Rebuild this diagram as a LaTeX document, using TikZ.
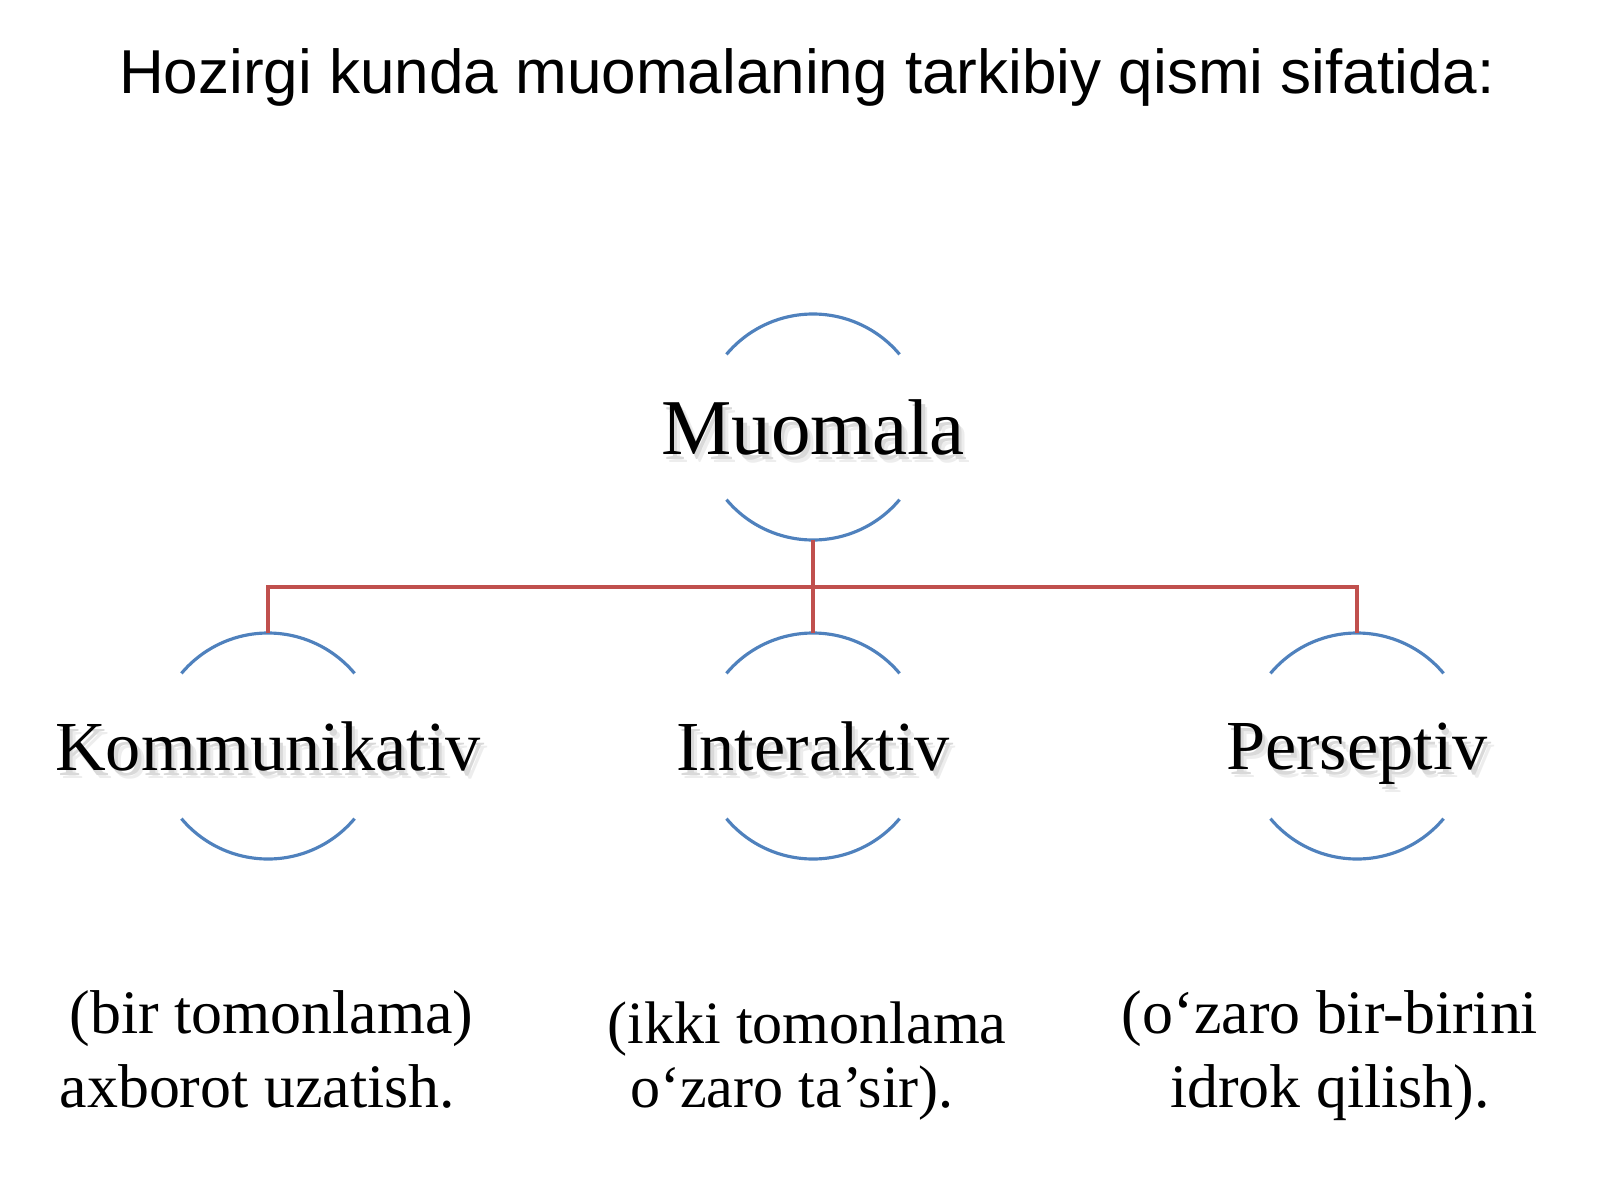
\documentclass[tikz,border=0pt]{standalone}
\usepackage{fontspec}
\setmainfont{Liberation Serif}
\newfontfamily\titlefont{Liberation Sans}
\definecolor{arcblue}{HTML}{4F81BD}
\definecolor{busred}{HTML}{C0504D}
\newcommand{\shadowed}[1]{\makebox[0pt][l]{\hspace{1.8pt}\raisebox{-2.4pt}{\textcolor{black!7}{#1}}}\makebox[0pt][l]{\hspace{1.0pt}\raisebox{-1.4pt}{\textcolor{black!15}{#1}}}#1}

\begin{document}
\begin{tikzpicture}[
    ring/.style={circle, minimum size=2.26cm, inner sep=0pt, outer sep=0pt},
    arcline/.style={draw=arcblue, line width=0.9pt},
    busline/.style={draw=busred, line width=0.9pt},
    lbl/.style={inner sep=0pt, text depth=0pt, font=\fontsize{20}{24}\selectfont},
    note/.style={inner sep=0pt, font=\fontsize{17.6}{21}\selectfont}]

    \useasboundingbox (0,0) rectangle (16,12);

    % title
    \node[anchor=base, inner sep=0pt, font=\titlefont\fontsize{17.65}{20}\selectfont] (title) at (8.07,11.06)
        {Hozirgi kunda muomalaning tarkibiy qismi sifatida:};

    % rings
    \node[ring] (mc) at (8.13,7.73) {};
    \node[ring] (kc) at (2.68,4.54) {};
    \node[ring] (ic) at (8.13,4.54) {};
    \node[ring] (pc) at (13.57,4.54) {};

    \draw[arcline] (mc.40) arc[start angle=40, end angle=140, radius=1.13];
    \draw[arcline] (mc.220) arc[start angle=220, end angle=320, radius=1.13];
    \draw[arcline] (kc.40) arc[start angle=40, end angle=140, radius=1.13];
    \draw[arcline] (kc.220) arc[start angle=220, end angle=320, radius=1.13];
    \draw[arcline] (ic.40) arc[start angle=40, end angle=140, radius=1.13];
    \draw[arcline] (ic.220) arc[start angle=220, end angle=320, radius=1.13];
    \draw[arcline] (pc.40) arc[start angle=40, end angle=140, radius=1.13];
    \draw[arcline] (pc.220) arc[start angle=220, end angle=320, radius=1.13];

    % labels
    \node[lbl, font=\fontsize{22.5}{27}\selectfont] (m) at (mc) {\shadowed{Muomala}};
    \node[lbl] (k) at (kc) {\shadowed{Kommunikativ}};
    \node[lbl] (i) at (ic) {\shadowed{Interaktiv}};
    \node[lbl] (p) at (pc) {\shadowed{Perseptiv}};

    % connectors
    \coordinate (hub) at (8.13,6.13);
    \draw[busline] (mc.south) -- (hub);
    \draw[busline] (kc.north) |- (hub) -| (pc.north);
    \draw[busline] (hub) -- (ic.north);

    % notes (base = last line)
    \node[note, anchor=base west, align=left] (kn) at (0.59,0.93)
        {\hspace*{0.10cm}(bir tomonlama)\\axborot uzatish.};
    \node[note, anchor=base, align=center, font=\fontsize{17.1}{18}\selectfont] (in) at (8.07,0.93)
        {(ikki tomonlama\\o‘zaro ta’sir).\hspace*{0.3cm}};
    \node[note, anchor=base, align=center] (pn) at (13.30,0.93)
        {(o‘zaro bir-birini\\idrok qilish).};

\end{tikzpicture}
\end{document}
